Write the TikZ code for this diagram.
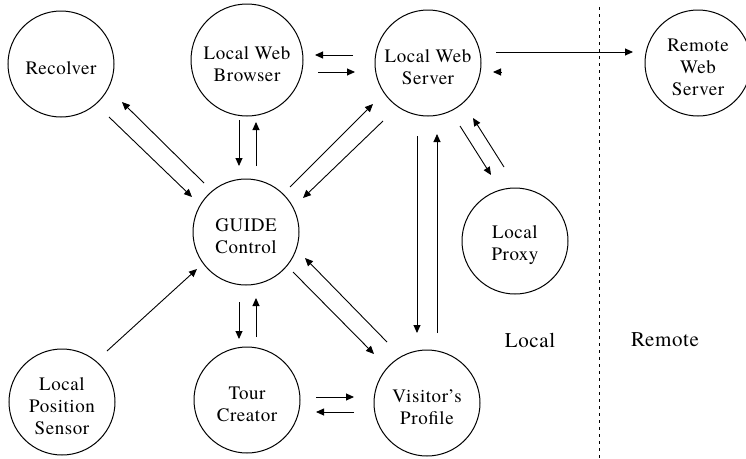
\documentclass[tikz,border=0pt]{standalone}
\usepackage{fontspec}
\setmainfont{texgyretermes-regular.otf}[LetterSpace=3.0]
\usetikzlibrary{arrows.meta,calc}
\begin{document}
\begin{tikzpicture}[x=1pt,y=-1pt,
  proc/.style={circle,draw,line width=1pt,minimum size=106pt,inner sep=0pt},
  txt/.style={align=center,inner sep=0pt,yshift=-4pt,
    font=\fontsize{19}{22}\selectfont},
  arr/.style={-{Triangle[length=8pt,width=7pt]},line width=0.9pt},
  lbl/.style={font=\fontsize{21}{24}\selectfont,inner sep=0pt},
  divider/.style={line width=1pt,dash pattern=on 3pt off 4pt}]
\useasboundingbox (0,0) rectangle (746,458);
% nodes
\node[proc,label={[txt]center:{Recolver}}] (recolver) at (61,64) {};
\node[proc,minimum size=112pt,label={[txt]center:{Local Web\\Browser}}] (browser) at (247,60) {};
\node[proc,label={[txt]center:{Local Web\\Server}}] (server) at (428,63) {};
\node[proc,label={[txt]center:{Remote\\Web\\Server}}] (remote) at (698,63) {};
\node[proc,label={[txt]center:{GUIDE\\Control}}] (guide) at (246,232) {};
\node[proc,label={[txt]center:{Local\\Proxy}}] (proxy) at (515,241) {};
\node[proc,label={[txt]center:{Local\\Position\\Sensor}}] (sensor) at (62,402) {};
\node[proc,label={[txt]center:{Tour\\Creator}}] (tour) at (247,400) {};
\node[proc,label={[txt]center:{Visitor’s\\Profile}}] (visitor) at (427,403) {};
\node[lbl] (local) at (530,340) {Local};
\node[lbl] (remotelbl) at (665,340) {Remote};
% divider
\coordinate (divtop) at (599,7);
\coordinate (divbot) at (599,458);
\draw[divider] (divtop) -- (divbot);
% browser <-> server
\draw[arr] ($(server)+(-75,-8)$) -- ($(browser)+(68,-5)$);
\draw[arr] ($(browser)+(71,12)$) -- ($(server)+(-73,9)$);
% server <-> remote
\draw[arr] ($(server)+(68,-11)$) -- ($(remote)+(-65,-11)$);
\draw[arr] ($(server)+(73,9)$) -- ($(server)+(65,9)$);
% recolver <-> guide
\draw[arr] ($(guide)+(-42,-49)$) -- ($(recolver)+(61,38)$);
\draw[arr] ($(recolver)+(48,53)$) -- ($(guide)+(-54,-35)$);
% browser <-> guide
\draw[arr] ($(browser)+(-8,60)$) -- ($(guide)+(-7,-66)$);
\draw[arr] ($(guide)+(10,-66)$) -- ($(browser)+(9,62)$);
% guide <-> server
\draw[arr] ($(guide)+(44,-45)$) -- ($(server)+(-55,41)$);
\draw[arr] ($(server)+(-45,58)$) -- ($(guide)+(57,-34)$);
% server <-> proxy
\draw[arr] ($(server)+(32,63)$) -- ($(proxy)+(-24,-66)$);
\draw[arr] ($(proxy)+(-11,-74)$) -- ($(server)+(45,55)$);
% server <-> visitor
\draw[arr] ($(server)+(-11,73)$) -- ($(visitor)+(-10,-70)$);
\draw[arr] ($(visitor)+(10,-70)$) -- ($(server)+(9,71)$);
% guide <-> visitor
\draw[arr] ($(visitor)+(-40,-61)$) -- ($(guide)+(59,26)$);
\draw[arr] ($(guide)+(47,40)$) -- ($(visitor)+(-53,-49)$);
% sensor -> guide
\draw[arr] ($(sensor)+(45,-51)$) -- ($(guide)+(-49,37)$);
% guide <-> tour
\draw[arr] ($(guide)+(-7,70)$) -- ($(tour)+(-8,-61)$);
\draw[arr] ($(tour)+(9,-63)$) -- ($(guide)+(10,66)$);
% tour <-> visitor
\draw[arr] ($(tour)+(69,-3)$) -- ($(visitor)+(-73,-6)$);
\draw[arr] ($(visitor)+(-73,9)$) -- ($(tour)+(69,12)$);
\end{tikzpicture}
\end{document}
